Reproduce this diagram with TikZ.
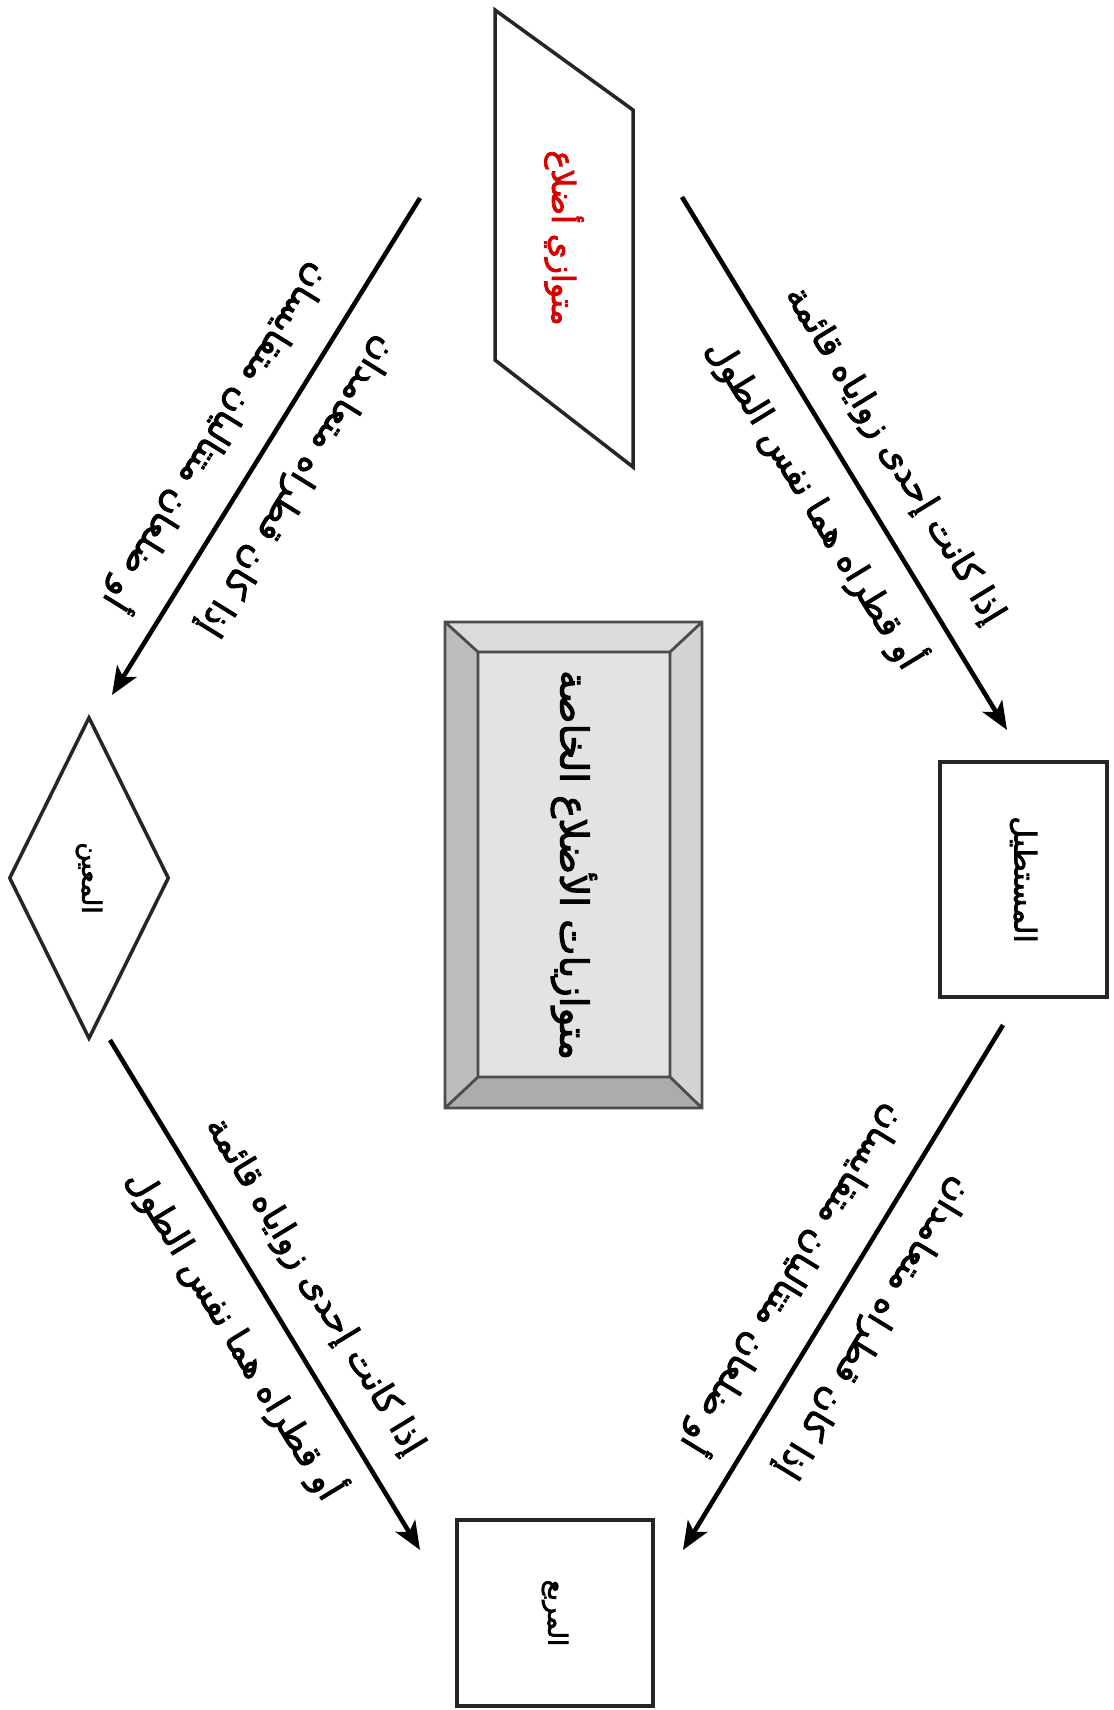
\documentclass[tikz,border=0pt]{standalone}
\usepackage{fontspec}
\usepackage{tikz}
\usetikzlibrary{shapes.geometric,arrows.meta}
\newfontfamily\arabicfont[Script=Arabic,FakeBold=2.5]{DejaVu Sans}
\TeXXeTstate=1
\newcommand{\artxt}[1]{\arabicfont\beginR #1\endR}

\begin{document}
\begin{tikzpicture}[line width=1pt]
\tikzstyle{con}=[draw=black!85,rotate=-90,inner sep=0pt,font=\fontsize{8.5}{10}\selectfont];
\tikzstyle{dir}=[-{Stealth[length=8pt,width=6.5pt,inset=2pt]},line width=1.3pt];
\tikzstyle{lab}=[inner sep=0pt,font=\fontsize{10}{12}\selectfont];

\useasboundingbox (0,0) rectangle (11.13,-17.10);

% beveled middle box
\fill [gray!28] (4.45,-6.22) -- (7.02,-6.22) -- (6.70,-6.52) -- (4.78,-6.52) -- cycle;
\fill [gray!52] (4.45,-6.22) -- (4.78,-6.52) -- (4.78,-10.77) -- (4.45,-11.08) -- cycle;
\fill [gray!34] (7.02,-6.22) -- (7.02,-11.08) -- (6.70,-10.77) -- (6.70,-6.52) -- cycle;
\fill [gray!65] (4.45,-11.08) -- (4.78,-10.77) -- (6.70,-10.77) -- (7.02,-11.08) -- cycle;
\fill [gray!22] (4.78,-6.52) rectangle (6.70,-10.77);
\draw [black!70,line width=.8pt] (4.45,-6.22) rectangle (7.02,-11.08)
  (4.78,-6.52) rectangle (6.70,-10.77)
  (4.45,-6.22) -- (4.78,-6.52) (7.02,-6.22) -- (6.70,-6.52)
  (4.45,-11.08) -- (4.78,-10.77) (7.02,-11.08) -- (6.70,-10.77);
\node [rotate=-90,font=\fontsize{11}{13}\selectfont] (mid) at (5.74,-8.65) {\artxt{متوازيات الأضلاع الخاصة}};

% shapes
\draw [black!85] (4.95,-0.10) -- (6.33,-1.10) -- (6.33,-4.67) -- (4.95,-3.60) -- cycle;
\node [rotate=-90,text=red!85!black,font=\fontsize{9}{11}\selectfont] (para) at (5.64,-2.38) {\artxt{متوازي أضلاع}};
\node [con,minimum width=2.35cm,minimum height=1.67cm] (rect) at (10.235,-8.795) {\artxt{المستطيل}};
\node [con,diamond,minimum width=3.22cm,minimum height=1.6cm,font=\fontsize{7.5}{9}\selectfont] (rhomb) at (0.89,-8.78) {\artxt{المعين}};
\node [con,minimum width=1.86cm,minimum height=1.96cm,font=\fontsize{7.5}{9}\selectfont] (sq) at (5.55,-16.13) {\artxt{المربع}};

% arrow ends
\coordinate (a1) at (6.82,-1.97);
\coordinate (a2) at (10.07,-7.30);
\coordinate (b1) at (4.20,-1.98);
\coordinate (b2) at (1.12,-6.95);
\coordinate (c1) at (10.03,-10.25);
\coordinate (c2) at (6.83,-15.50);
\coordinate (d1) at (1.10,-10.40);
\coordinate (d2) at (4.20,-15.50);

\draw [dir] (a1) -- (a2)
  node [lab,pos=.53,rotate=-58.6,yshift=.46cm] {\artxt{إذا كانت إحدى زواياه قائمة}}
  node [lab,pos=.53,rotate=-58.6,yshift=-.45cm] {\artxt{أو قطراه هما نفس الطول}};
\draw [dir] (b1) -- (b2)
  node [lab,pos=.53,rotate=-121.8,yshift=.46cm] {\artxt{إذا كان قطراه متعامدان}}
  node [lab,pos=.53,rotate=-121.8,yshift=-.45cm] {\artxt{أو ضلعان متتاليان متقايسان}};
\draw [dir] (c1) -- (c2)
  node [lab,pos=.53,rotate=-121.4,yshift=.46cm] {\artxt{إذا كان قطراه متعامدان}}
  node [lab,pos=.53,rotate=-121.4,yshift=-.45cm] {\artxt{أو ضلعان متتاليان متقايسان}};
\draw [dir] (d1) -- (d2)
  node [lab,pos=.53,rotate=-58.7,yshift=.46cm] {\artxt{إذا كانت إحدى زواياه قائمة}}
  node [lab,pos=.53,rotate=-58.7,yshift=-.45cm] {\artxt{أو قطراه هما نفس الطول}};
\end{tikzpicture}
\end{document}
